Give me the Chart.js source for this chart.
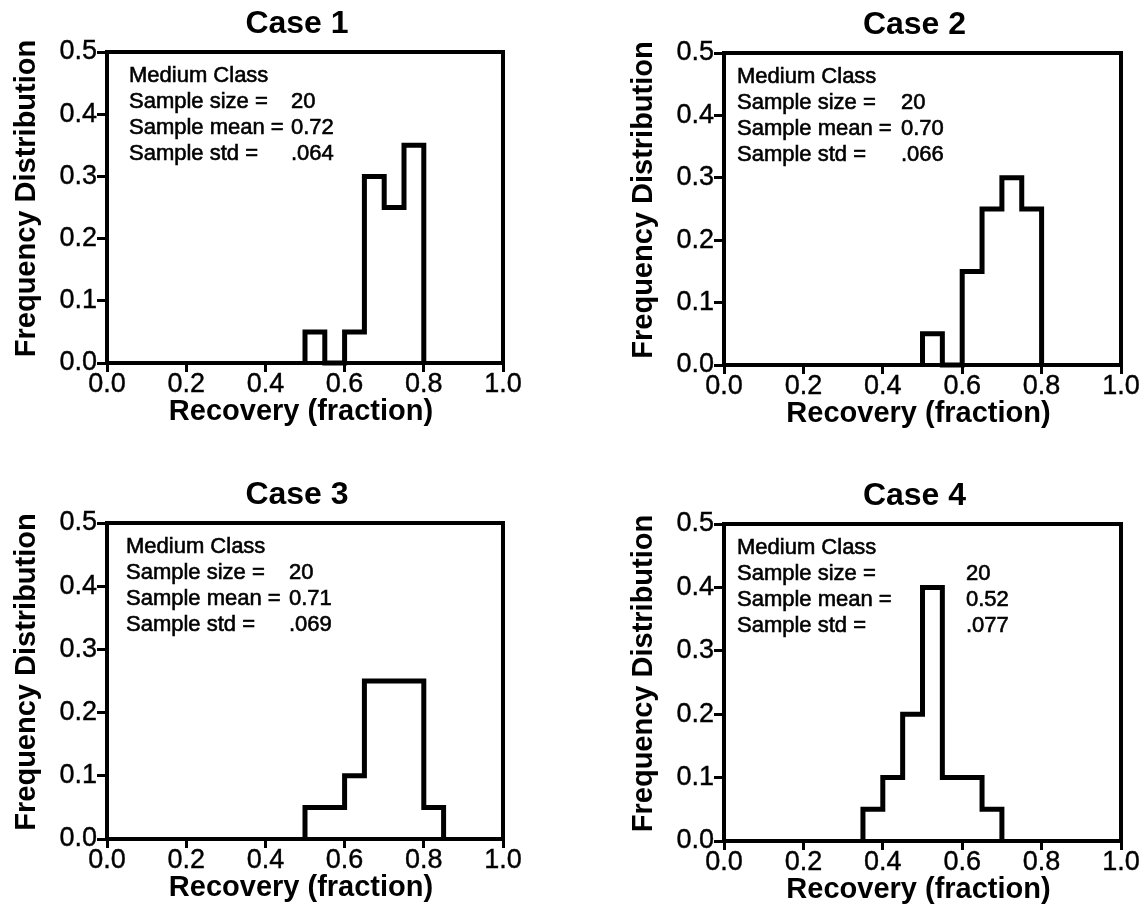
<!DOCTYPE html>
<html>
<head>
<meta charset="utf-8">
<script src="https://cdn.jsdelivr.net/npm/chart.js@4.4.1/dist/chart.umd.min.js"></script>
<style>
  html, body { margin: 0; padding: 0; background: #fff; }
  #wrap { position: relative; width: 1146px; height: 911px; overflow: hidden; background: #fff; }
  #wrap canvas { position: absolute; left: 0; top: 0; }
</style>
</head>
<body>
<div id="wrap">
  <canvas id="c1" width="1146" height="911"></canvas>
  <canvas id="c2" width="1146" height="911"></canvas>
  <canvas id="c3" width="1146" height="911"></canvas>
  <canvas id="c4" width="1146" height="911"></canvas>
</div>
<script>
// ---------------- DATA ----------------
const panelTitles = ['Case 1', 'Case 2', 'Case 3', 'Case 4'];
const xTickValues = [0.0, 0.2, 0.4, 0.6, 0.8, 1.0];
const yTickValues = [0.0, 0.1, 0.2, 0.3, 0.4, 0.5];
const xAxisLabel = 'Recovery (fraction)';
const yAxisLabel = 'Frequency Distribution';
const infoLabels = ['Medium Class', 'Sample size =', 'Sample mean =', 'Sample std ='];

// bin edges and frequencies (bin width 0.05)
const case1Edges = [0.50, 0.55, 0.60, 0.65, 0.70, 0.75, 0.80];
const case1Freq  = [0.05, 0.00, 0.05, 0.30, 0.25, 0.35];
const case1Stats = ['', '20', '0.72', '.064'];

const case2Edges = [0.50, 0.55, 0.60, 0.65, 0.70, 0.75, 0.80];
const case2Freq  = [0.05, 0.00, 0.15, 0.25, 0.30, 0.25];
const case2Stats = ['', '20', '0.70', '.066'];

const case3Edges = [0.50, 0.55, 0.60, 0.65, 0.70, 0.75, 0.80, 0.85];
const case3Freq  = [0.05, 0.05, 0.10, 0.25, 0.25, 0.25, 0.05];
const case3Stats = ['', '20', '0.71', '.069'];

const case4Edges = [0.35, 0.40, 0.45, 0.50, 0.55, 0.60, 0.65, 0.70];
const case4Freq  = [0.05, 0.10, 0.20, 0.40, 0.10, 0.10, 0.05];
const case4Stats = ['', '20', '0.52', '.077'];

// ---------------- LAYOUT (page pixels) ----------------
const FONT = "'Liberation Sans', Arial, Helvetica, sans-serif";
Chart.defaults.color = '#000';
Chart.defaults.font.family = FONT;

const W = 1146, H = 911;
const YW = 100, XH = 70;
const layouts = [
  { left: 107, right: 503, top: 52,  bottom: 363, labelDx: 22, valueDx: 184 },
  { left: 724, right: 1121, top: 53, bottom: 365, labelDx: 13, valueDx: 177 },
  { left: 107, right: 503, top: 523, bottom: 839, labelDx: 19, valueDx: 182 },
  { left: 724, right: 1121, top: 524, bottom: 841, labelDx: 13, valueDx: 242 }
];
const edgesList = [case1Edges, case2Edges, case3Edges, case4Edges];
const freqList = [case1Freq, case2Freq, case3Freq, case4Freq];
const statsList = [case1Stats, case2Stats, case3Stats, case4Stats];

function stepPoints(edges, freq) {
  const pts = [{ x: edges[0], y: 0 }];
  for (let i = 0; i < freq.length; i++) pts.push({ x: edges[i], y: freq[i] });
  pts.push({ x: edges[edges.length - 1], y: 0 });
  return pts;
}

function heavyText(ctx, text, x, y, w) {
  ctx.fillText(text, x, y);
  if (w > 0) { ctx.lineWidth = w; ctx.strokeText(text, x, y); }
}

const decorPlugin = {
  id: 'decor',
  afterDraw(chart, args, opts) {
    const ctx = chart.ctx;
    const a = chart.chartArea;
    const cx = (a.left + a.right) / 2, cy = (a.top + a.bottom) / 2;
    ctx.save();
    // frame
    ctx.strokeStyle = '#000';
    ctx.lineWidth = 4;
    ctx.lineJoin = 'miter';
    ctx.strokeRect(a.left, a.top, a.right - a.left, a.bottom - a.top);
    ctx.fillStyle = '#000';
    ctx.textBaseline = 'middle';
    // panel title
    ctx.font = 'bold 32px ' + FONT;
    ctx.textAlign = 'center';
    ctx.fillText(opts.title, cx - 8, a.top - 28);
    // axis titles
    ctx.font = 'bold 29px ' + FONT;
    ctx.fillText(xAxisLabel, cx - 4, a.bottom + 49);
    ctx.save();
    ctx.translate(a.left - 80, cy - 9);
    ctx.rotate(-Math.PI / 2);
    ctx.fillText(yAxisLabel, 0, 0);
    ctx.restore();
    // info block
    ctx.font = '22px ' + FONT;
    ctx.textAlign = 'left';
    for (let i = 0; i < infoLabels.length; i++) {
      const y = a.top + 24 + 26 * i;
      heavyText(ctx, infoLabels[i], a.left + opts.labelDx, y, 0.6);
      if (opts.stats[i]) heavyText(ctx, opts.stats[i], a.left + opts.valueDx, y, 0.6);
    }
    ctx.restore();
  }
};

for (let p = 0; p < 4; p++) {
  const L = layouts[p];
  new Chart(document.getElementById('c' + (p + 1)), {
    type: 'line',
    data: {
      datasets: [{
        data: stepPoints(edgesList[p], freqList[p]),
        stepped: 'before',
        borderColor: '#000',
        borderWidth: 5,
        borderJoinStyle: 'miter',
        borderCapStyle: 'butt',
        pointRadius: 0,
        fill: false,
        clip: 6
      }]
    },
    options: {
      responsive: false,
      animation: false,
      devicePixelRatio: 1,
      layout: {
        padding: {
          left: L.left - YW,
          right: W - L.right,
          top: L.top,
          bottom: H - L.bottom - XH
        }
      },
      plugins: {
        legend: { display: false },
        tooltip: { enabled: false },
        title: { display: false },
        decor: { title: panelTitles[p], stats: statsList[p], labelDx: L.labelDx, valueDx: L.valueDx }
      },
      scales: {
        x: {
          type: 'linear',
          min: 0, max: 1,
          afterFit(s) { s.height = XH; },
          afterBuildTicks(s) { s.ticks = xTickValues.map(v => ({ value: v })); },
          border: { display: false },
          grid: { drawOnChartArea: false, drawTicks: true, tickLength: 9, tickWidth: 3, tickColor: '#000' },
          ticks: {
            autoSkip: false, maxRotation: 0, padding: -4,
            font: { size: 27 },
            textStrokeColor: '#000', textStrokeWidth: 0.4,
            callback: v => Number(v).toFixed(1)
          },
          title: { display: false }
        },
        y: {
          type: 'linear',
          min: 0, max: 0.5,
          afterFit(s) { s.width = YW; },
          afterBuildTicks(s) { s.ticks = yTickValues.map(v => ({ value: v })); },
          border: { display: false },
          grid: { drawOnChartArea: false, drawTicks: true, tickLength: 10, tickWidth: 3, tickColor: '#000' },
          ticks: {
            autoSkip: false, padding: 0,
            font: { size: 27 },
            textStrokeColor: '#000', textStrokeWidth: 0.4,
            callback: v => Number(v).toFixed(1)
          },
          title: { display: false }
        }
      }
    },
    plugins: [decorPlugin]
  });
}
</script>
</body>
</html>
